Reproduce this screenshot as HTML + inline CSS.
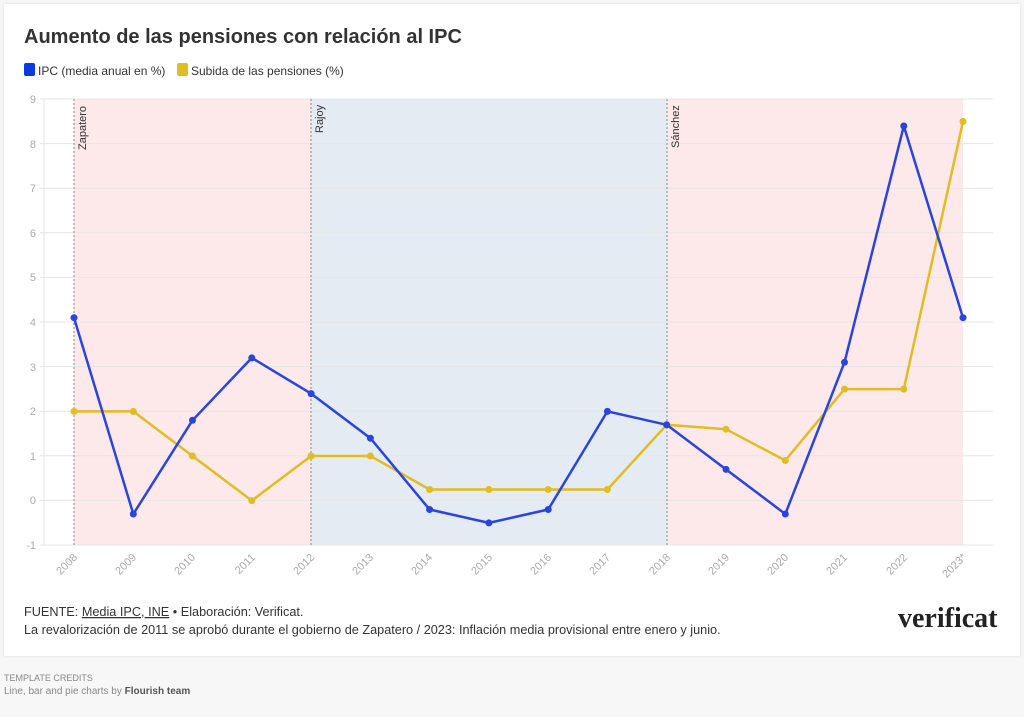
<!DOCTYPE html>
<html><head><meta charset="utf-8"><style>
body{margin:0;width:1024px;height:717px;background:#f7f7f7;font-family:"Liberation Sans",sans-serif;position:relative;overflow:hidden}
.card{position:absolute;left:4px;top:4px;width:1016px;height:652px;background:#fff;box-shadow:0 0 3px rgba(0,0,0,0.12)}
</style></head><body>
<div class="card"></div>
<svg width="1024" height="717" style="position:absolute;left:0;top:0" font-family="Liberation Sans, sans-serif">
<text x="24" y="43" font-size="20" font-weight="bold" fill="#333">Aumento de las pensiones con relación al IPC</text>
<rect x="24" y="63" width="11" height="13" rx="2" fill="#0a3be0"/>
<text x="38" y="75" font-size="12" fill="#333">IPC (media anual en %)</text>
<rect x="177" y="63" width="11" height="13" rx="2" fill="#e0bd22"/>
<text x="191" y="75" font-size="12" fill="#333">Subida de las pensiones (%)</text>
<rect x="74" y="99" width="237" height="446" fill="#fde8ea"/>
<rect x="311" y="99" width="356" height="446" fill="#e5ebf3"/>
<rect x="667" y="99" width="296" height="446" fill="#fde8ea"/>
<g stroke="#e6e6e6" stroke-width="1">
<line x1="40" x2="993" y1="99" y2="99"/><line x1="40" x2="993" y1="143.6" y2="143.6"/><line x1="40" x2="993" y1="188.2" y2="188.2"/><line x1="40" x2="993" y1="232.8" y2="232.8"/><line x1="40" x2="993" y1="277.4" y2="277.4"/><line x1="40" x2="993" y1="322" y2="322"/><line x1="40" x2="993" y1="366.6" y2="366.6"/><line x1="40" x2="993" y1="411.2" y2="411.2"/><line x1="40" x2="993" y1="455.8" y2="455.8"/><line x1="40" x2="993" y1="500.4" y2="500.4"/><line x1="40" x2="993" y1="545" y2="545"/>
<line x1="44" x2="44" y1="99" y2="545"/>
</g>
<g font-size="11" fill="#aaa" text-anchor="end">
<text x="36" y="103">9</text><text x="36" y="148">8</text><text x="36" y="192">7</text><text x="36" y="237">6</text><text x="36" y="281">5</text><text x="36" y="326">4</text><text x="36" y="371">3</text><text x="36" y="415">2</text><text x="36" y="460">1</text><text x="36" y="504">0</text><text x="36" y="549">-1</text>
</g>
<g stroke="#888" stroke-dasharray="2,2" stroke-width="1">
<line x1="74" x2="74" y1="99" y2="545"/><line x1="311" x2="311" y1="99" y2="545"/><line x1="667" x2="667" y1="99" y2="545"/>
</g>
<g font-size="11" fill="#333">
<text transform="translate(86,150) rotate(-90)">Zapatero</text>
<text transform="translate(323,133) rotate(-90)">Rajoy</text>
<text transform="translate(679,148) rotate(-90)">Sánchez</text>
</g>
<g font-size="11" fill="#aaa" text-anchor="end">
<text transform="translate(78,558) rotate(-45)">2008</text><text transform="translate(137,558) rotate(-45)">2009</text><text transform="translate(196,558) rotate(-45)">2010</text><text transform="translate(256,558) rotate(-45)">2011</text><text transform="translate(315,558) rotate(-45)">2012</text><text transform="translate(374,558) rotate(-45)">2013</text><text transform="translate(433,558) rotate(-45)">2014</text><text transform="translate(493,558) rotate(-45)">2015</text><text transform="translate(552,558) rotate(-45)">2016</text><text transform="translate(611,558) rotate(-45)">2017</text><text transform="translate(671,558) rotate(-45)">2018</text><text transform="translate(730,558) rotate(-45)">2019</text><text transform="translate(789,558) rotate(-45)">2020</text><text transform="translate(848,558) rotate(-45)">2021</text><text transform="translate(908,558) rotate(-45)">2022</text><text transform="translate(967,558) rotate(-45)">2023*</text>
</g>
<polyline fill="none" stroke="#e0bd22" stroke-width="2.5" stroke-linejoin="round" points="74,411.4 133.3,411.4 192.5,456 251.8,500.6 311.1,456 370.4,456 429.6,489.5 488.9,489.5 548.2,489.5 607.4,489.5 666.7,424.8 726,429.2 785.3,460.5 844.5,389.1 903.8,389.1 963,121.5"/>
<g fill="#e0bd22"><circle cx="74" cy="411.4" r="3.5"/><circle cx="133.3" cy="411.4" r="3.5"/><circle cx="192.5" cy="456" r="3.5"/><circle cx="251.8" cy="500.6" r="3.5"/><circle cx="311.1" cy="456" r="3.5"/><circle cx="370.4" cy="456" r="3.5"/><circle cx="429.6" cy="489.5" r="3.5"/><circle cx="488.9" cy="489.5" r="3.5"/><circle cx="548.2" cy="489.5" r="3.5"/><circle cx="607.4" cy="489.5" r="3.5"/><circle cx="666.7" cy="424.8" r="3.5"/><circle cx="726" cy="429.2" r="3.5"/><circle cx="785.3" cy="460.5" r="3.5"/><circle cx="844.5" cy="389.1" r="3.5"/><circle cx="903.8" cy="389.1" r="3.5"/><circle cx="963" cy="121.5" r="3.5"/></g>
<polyline fill="none" stroke="#2a44e0" stroke-width="2.5" stroke-linejoin="round" points="74,317.7 133.3,514 192.5,420.3 251.8,357.9 311.1,393.6 370.4,438.2 429.6,509.5 488.9,522.9 548.2,509.5 607.4,411.4 666.7,424.8 726,469.4 785.3,514 844.5,362.3 903.8,126 963,317.7"/>
<g fill="#2a44e0"><circle cx="74" cy="317.7" r="3.5"/><circle cx="133.3" cy="514" r="3.5"/><circle cx="192.5" cy="420.3" r="3.5"/><circle cx="251.8" cy="357.9" r="3.5"/><circle cx="311.1" cy="393.6" r="3.5"/><circle cx="370.4" cy="438.2" r="3.5"/><circle cx="429.6" cy="509.5" r="3.5"/><circle cx="488.9" cy="522.9" r="3.5"/><circle cx="548.2" cy="509.5" r="3.5"/><circle cx="607.4" cy="411.4" r="3.5"/><circle cx="666.7" cy="424.8" r="3.5"/><circle cx="726" cy="469.4" r="3.5"/><circle cx="785.3" cy="514" r="3.5"/><circle cx="844.5" cy="362.3" r="3.5"/><circle cx="903.8" cy="126" r="3.5"/><circle cx="963" cy="317.7" r="3.5"/></g>
<text x="24" y="616" font-size="12.7" fill="#333">FUENTE: <tspan text-decoration="underline">Media IPC, INE</tspan> • Elaboración: Verificat.</text>
<text x="24" y="634" font-size="12.7" fill="#333">La revalorización de 2011 se aprobó durante el gobierno de Zapatero / 2023: Inflación media provisional entre enero y junio.</text>
<text x="898" y="627" font-size="28" font-weight="bold" fill="#222" font-family="Liberation Serif, serif">verificat</text>
<text x="4" y="681" font-size="9" fill="#888">TEMPLATE CREDITS</text>
<text x="4" y="694" font-size="10" fill="#888">Line, bar and pie charts by <tspan font-weight="bold" fill="#555">Flourish team</tspan></text>
</svg>
</body></html>
